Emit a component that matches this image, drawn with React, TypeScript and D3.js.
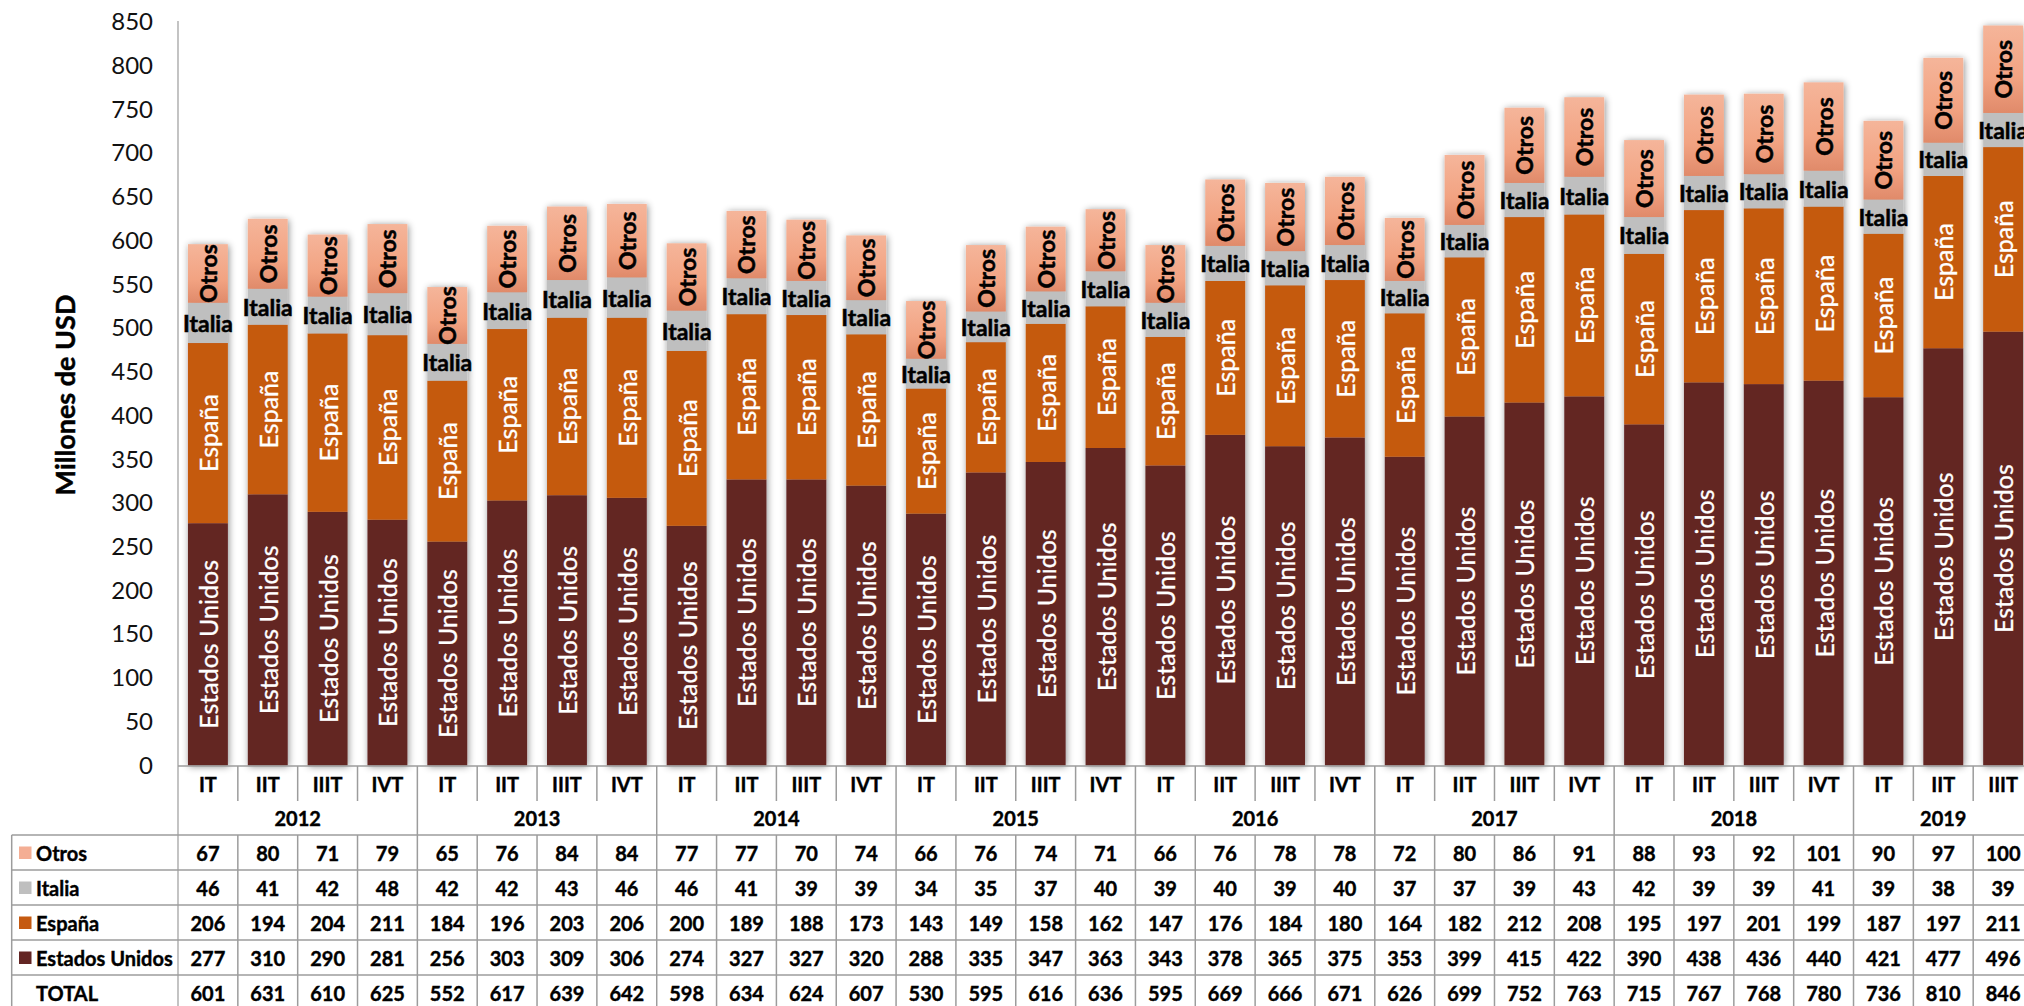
import { useEffect, useRef } from "react";
import * as d3 from "d3";

const yearLabels = ["2012", "2013", "2014", "2015", "2016", "2017", "2018", "2019"];
const quartersPerYear = [4, 4, 4, 4, 4, 4, 4, 3];
const quarterNames = ["IT", "IIT", "IIIT", "IVT"];

const seriesNames = ["Estados Unidos", "España", "Italia", "Otros"];

const estadosUnidos = [
  277, 310, 290, 281, 256, 303, 309, 306, 274, 327, 327, 320, 288, 335, 347, 363,
  343, 378, 365, 375, 353, 399, 415, 422, 390, 438, 436, 440, 421, 477, 496,
];
const espana = [
  206, 194, 204, 211, 184, 196, 203, 206, 200, 189, 188, 173, 143, 149, 158, 162,
  147, 176, 184, 180, 164, 182, 212, 208, 195, 197, 201, 199, 187, 197, 211,
];
const italia = [
  46, 41, 42, 48, 42, 42, 43, 46, 46, 41, 39, 39, 34, 35, 37, 40,
  39, 40, 39, 40, 37, 37, 39, 43, 42, 39, 39, 41, 39, 38, 39,
];
const otros = [
  67, 80, 71, 79, 65, 76, 84, 84, 77, 77, 70, 74, 66, 76, 74, 71,
  66, 76, 78, 78, 72, 80, 86, 91, 88, 93, 92, 101, 90, 97, 100,
];
const totals = [
  601, 631, 610, 625, 552, 617, 639, 642, 598, 634, 624, 607, 530, 595, 616, 636,
  595, 669, 666, 671, 626, 699, 752, 763, 715, 767, 768, 780, 736, 810, 846,
];

const yTicks = d3.range(0, 851, 50);

const FONT = "Lato, Carlito, 'Open Sans', sans-serif";

export default function App() {
  const svgRef = useRef<SVGSVGElement>(null);

  useEffect(() => {
    if (!svgRef.current) return;
    const svg = d3.select(svgRef.current);
    const width = 2024;
    const height = 1006;
    svg.selectAll("*").remove();
    svg.attr("width", width).attr("height", height);

    const axisX = 178;
    const step = 59.84;
    const base = 765.5;
    const rowH = 35;
    const quarterRowBottom = 801;
    const yearRowBottom = 835;
    const gridColor = "#9c9c9c";

    // categories: one per quarter
    const categories: { key: string; q: string; year: string }[] = [];
    yearLabels.forEach((yr, i) => {
      quarterNames.slice(0, quartersPerYear[i]).forEach((q) => {
        categories.push({ key: `${q}-${yr}`, q, year: yr });
      });
    });
    const keys = categories.map((c) => c.key);

    const cols = d3
      .scaleBand()
      .domain(keys)
      .range([axisX, axisX + step * keys.length])
      .padding(0);

    const xScale = d3
      .scaleBand()
      .domain(keys)
      .range([axisX, axisX + step * keys.length])
      .paddingInner(1 / 3)
      .paddingOuter(1 / 6);

    const yScale = d3.scaleLinear().domain([0, 850]).range([base, 22]);

    const rows = keys.map((k, i) => ({
      key: k,
      "Estados Unidos": estadosUnidos[i],
      España: espana[i],
      Italia: italia[i],
      Otros: otros[i],
    }));
    const stacked = d3.stack<any>().keys(seriesNames)(rows);

    const colors: Record<string, string> = {
      "Estados Unidos": "#632523",
      España: "#C55A11",
      Italia: "#BFBFBF",
      Otros: "url(#otrosGrad)",
    };

    const defs = svg.append("defs");
    const grad = defs
      .append("linearGradient")
      .attr("id", "otrosGrad")
      .attr("x1", 0)
      .attr("y1", 0)
      .attr("x2", 0)
      .attr("y2", 1);
    grad.append("stop").attr("offset", "0%").attr("stop-color", "#F5B59A");
    grad.append("stop").attr("offset", "60%").attr("stop-color", "#F2A382");
    grad.append("stop").attr("offset", "100%").attr("stop-color", "#E08A6A");

    const filter = defs
      .append("filter")
      .attr("id", "barShadow")
      .attr("x", "-30%")
      .attr("y", "-10%")
      .attr("width", "160%")
      .attr("height", "120%");
    filter
      .append("feDropShadow")
      .attr("dx", 1)
      .attr("dy", 1)
      .attr("stdDeviation", 3.5)
      .attr("flood-color", "#000")
      .attr("flood-opacity", 0.45);

    svg.append("rect").attr("width", width).attr("height", height).attr("fill", "#fff");

    // Bars
    const barGroups = svg
      .selectAll("g.bar")
      .data(keys)
      .join("g")
      .attr("class", "bar")
      .attr("filter", "url(#barShadow)");

    barGroups.each(function (k, i) {
      d3.select(this)
        .selectAll("rect")
        .data(stacked.map((layer) => ({ name: layer.key, d: layer[i] })))
        .join("rect")
        .attr("x", xScale(k)!)
        .attr("width", xScale.bandwidth())
        .attr("y", (s) => yScale(s.d[1]))
        .attr("height", (s) => yScale(s.d[0]) - yScale(s.d[1]))
        .attr("fill", (s) => colors[s.name]);
    });

    // Segment labels
    stacked.forEach((layer) => {
      layer.forEach((d, i) => {
        const cx = xScale(keys[i])! + xScale.bandwidth() / 2;
        const cy = (yScale(d[0]) + yScale(d[1])) / 2;
        const name = layer.key;
        const t = svg
          .append("text")
          .attr("font-family", FONT)
          .attr("dominant-baseline", "central")
          .attr("text-anchor", "middle")
          .text(name);
        if (name === "Italia") {
          t.attr("x", cx)
            .attr("y", cy)
            .attr("font-size", "23px")
            .attr("font-weight", "bold")
            .attr("fill", "#000")
            .attr("stroke", "#000")
            .attr("stroke-width", 0.5);
        } else {
          const white = name !== "Otros";
          t.attr("transform", `translate(${cx},${cy}) rotate(-90)`)
            .attr("font-size", white ? "25px" : "23px")
            .attr("font-weight", white ? "normal" : "bold")
            .attr("fill", white ? "#fff" : "#000")
            .attr("stroke", white ? "#fff" : "#000")
            .attr("stroke-width", white ? 0.3 : 0.5);
        }
      });
    });

    // Y axis
    const yAxis = svg
      .append("g")
      .attr("transform", `translate(${axisX},0)`)
      .call(d3.axisLeft(yScale).tickValues(yTicks).tickSize(0).tickPadding(25));
    yAxis.select(".domain").remove();
    yAxis
      .selectAll("text")
      .attr("font-family", FONT)
      .attr("font-size", "24px")
      .attr("fill", "#111");

    svg
      .append("text")
      .attr("transform", `translate(64,395) rotate(-90)`)
      .attr("text-anchor", "middle")
      .attr("dominant-baseline", "central")
      .attr("font-family", FONT)
      .attr("font-weight", "bold")
      .attr("font-size", "27px")
      .attr("stroke", "#000")
      .attr("stroke-width", 0.5)
      .text("Millones de USD");

    // Axis and table lines
    const lines = svg.append("g").attr("stroke", gridColor).attr("stroke-width", 1.5);
    lines
      .append("line")
      .attr("x1", axisX)
      .attr("x2", axisX)
      .attr("y1", 21)
      .attr("y2", height)
      .attr("stroke-width", 1.2);
    lines
      .append("line")
      .attr("x1", axisX)
      .attr("x2", width)
      .attr("y1", 766)
      .attr("y2", 766);

    const yearStart = new Set<number>();
    let acc = 0;
    quartersPerYear.forEach((n) => {
      yearStart.add(acc);
      acc += n;
    });
    yearStart.add(acc);

    keys.forEach((k, i) => {
      if (i === 0) return;
      const x = cols(k)!;
      lines
        .append("line")
        .attr("x1", x)
        .attr("x2", x)
        .attr("y1", 766)
        .attr("y2", yearStart.has(i) ? height : quarterRowBottom);
      if (!yearStart.has(i)) {
        lines
          .append("line")
          .attr("x1", x)
          .attr("x2", x)
          .attr("y1", yearRowBottom)
          .attr("y2", height);
      }
    });

    const rowLabels = ["Otros", "Italia", "España", "Estados Unidos", "TOTAL"];
    const rowValues = [otros, italia, espana, estadosUnidos, totals];
    const legendColors = ["#F4AE94", "#BFBFBF", "#C55A11", "#632523", null];

    const rowY = d3
      .scaleBand()
      .domain(rowLabels)
      .range([yearRowBottom, yearRowBottom + rowH * rowLabels.length]);

    rowLabels.forEach((r) => {
      lines
        .append("line")
        .attr("x1", 11.7)
        .attr("x2", width)
        .attr("y1", rowY(r)!)
        .attr("y2", rowY(r)!);
    });
    lines
      .append("line")
      .attr("x1", 11.7)
      .attr("x2", 11.7)
      .attr("y1", yearRowBottom)
      .attr("y2", height);

    const boldText = (sel: any) =>
      sel
        .attr("dominant-baseline", "central")
        .attr("font-family", FONT)
        .attr("font-weight", "bold")
        .attr("font-size", "20px")
        .attr("fill", "#000")
        .attr("stroke", "#000")
        .attr("stroke-width", 0.4);

    // Quarter labels
    svg
      .append("g")
      .selectAll("text")
      .data(categories)
      .join("text")
      .attr("x", (c) => cols(c.key)! + cols.bandwidth() / 2)
      .attr("y", (766 + quarterRowBottom) / 2)
      .attr("text-anchor", "middle")
      .call(boldText)
      .text((c) => c.q);

    // Year labels
    let startIdx = 0;
    yearLabels.forEach((yr, i) => {
      const x0 = cols(keys[startIdx])!;
      const x1 = x0 + cols.step() * quartersPerYear[i];
      svg
        .append("text")
        .attr("x", (x0 + x1) / 2)
        .attr("y", (quarterRowBottom + yearRowBottom) / 2)
        .attr("text-anchor", "middle")
        .call(boldText)
        .text(yr);
      startIdx += quartersPerYear[i];
    });

    // Table rows
    rowLabels.forEach((r, ri) => {
      const cy = rowY(r)! + rowH / 2;
      if (legendColors[ri]) {
        svg
          .append("rect")
          .attr("x", 19)
          .attr("y", cy - 6)
          .attr("width", 12.5)
          .attr("height", 12.5)
          .attr("fill", legendColors[ri]!);
      }
      svg.append("text").attr("x", 36).attr("y", cy).call(boldText).text(r);
      svg
        .append("g")
        .selectAll("text")
        .data(rowValues[ri])
        .join("text")
        .attr("x", (_, i) => cols(keys[i])! + cols.bandwidth() / 2)
        .attr("y", cy)
        .attr("text-anchor", "middle")
        .call(boldText)
        .text((v) => v);
    });
  }, []);

  return (
    <div style={{ position: "absolute", left: 0, top: 0 }}>
      <svg ref={svgRef} style={{ display: "block" }}></svg>
    </div>
  );
}
